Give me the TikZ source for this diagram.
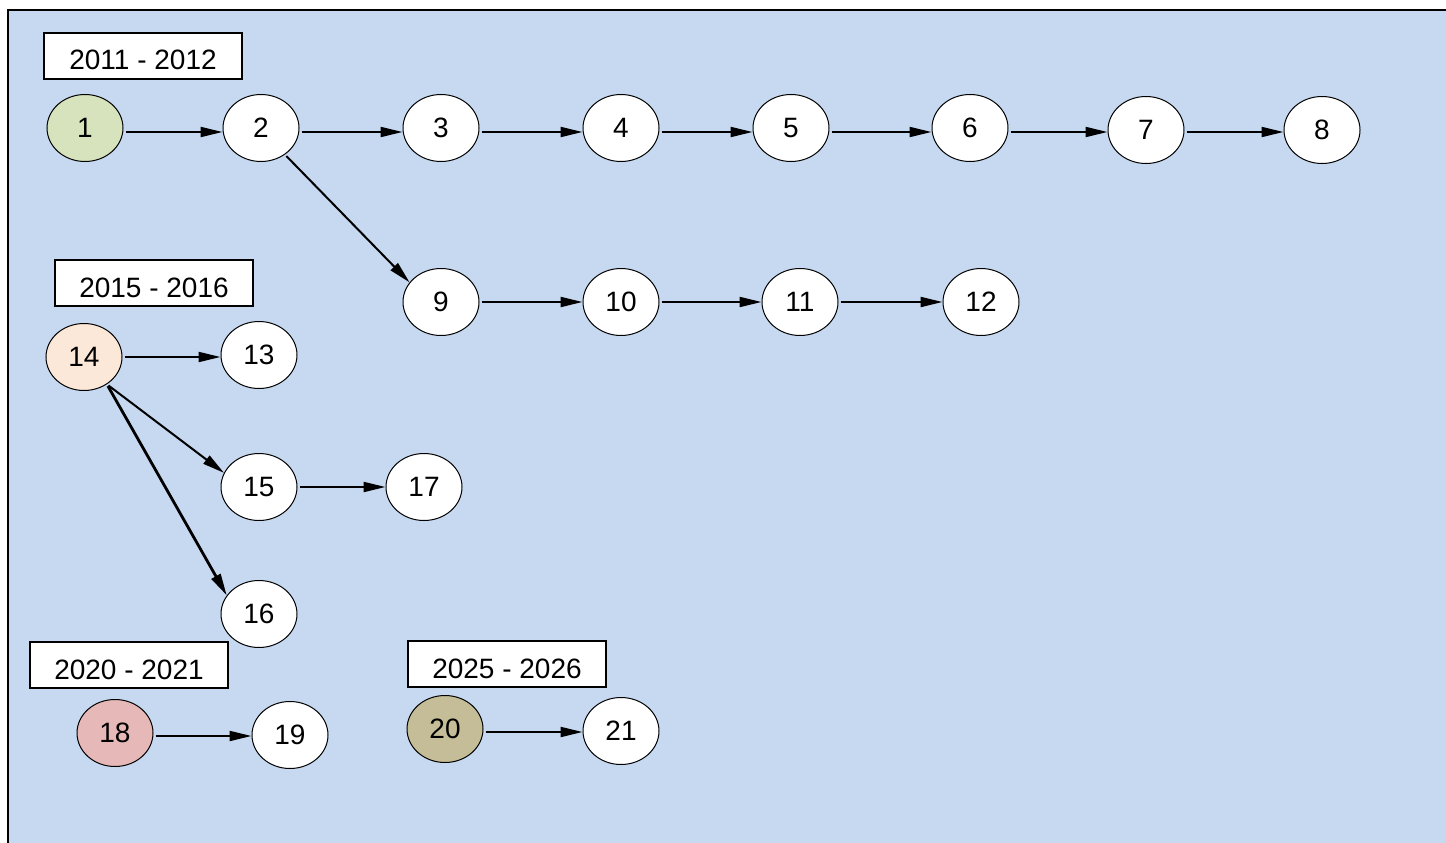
\documentclass[tikz,border=0pt]{standalone}
\usepackage{fontspec}
\setmainfont{Liberation Sans}
\usetikzlibrary{shapes.geometric,arrows.meta}
\definecolor{bgblue}{RGB}{198,217,240}
\definecolor{cgreen}{RGB}{214,227,188}
\definecolor{cpeach}{RGB}{252,232,216}
\definecolor{cpink}{RGB}{230,184,183}
\definecolor{cbeige}{RGB}{196,189,151}
\begin{document}
\begin{tikzpicture}[x=1pt,y=-1pt,
  nd/.style={ellipse,draw=black,line width=1pt,fill=white,minimum width=76pt,minimum height=67pt,inner sep=0pt,font=\fontsize{28}{32}\selectfont},
  yr/.style={rectangle,draw=black,line width=1.3pt,fill=white,minimum width=198pt,minimum height=46pt,inner sep=0pt,text height=28pt,text depth=0pt,font=\fontsize{28}{32}\selectfont},
  ar/.style={-{Triangle[length=22pt,width=10pt]},line width=2pt,shorten <=2pt}]
\useasboundingbox (0,0) rectangle (1446,843);
\fill[bgblue] (8,10) rectangle (1460,860);
\draw[line width=1.5pt] (8,860) -- (8,10) -- (1460,10);
% year labels
\node[yr] (y1) at (143,56) {2011 - 2012};
\node[yr] (y2) at (154,283) {2015 - 2016};
\node[yr] (y3) at (129,665) {2020 - 2021};
\node[yr] (y4) at (507,664) {2025 - 2026};
% nodes
\node[nd,fill=cgreen] (n1) at (85,128) {1};
\node[nd] (n2) at (261,128) {2};
\node[nd] (n3) at (441,128) {3};
\node[nd] (n4) at (621,128) {4};
\node[nd] (n5) at (791,128) {5};
\node[nd] (n6) at (970,128) {6};
\node[nd] (n7) at (1146,130) {7};
\node[nd] (n8) at (1322,130) {8};
\node[nd] (n9) at (441,302) {9};
\node[nd] (n10) at (621,302) {10};
\node[nd] (n11) at (800,302) {11};
\node[nd] (n12) at (981,302) {12};
\node[nd,fill=cpeach] (n14) at (84,357) {14};
\node[nd] (n13) at (259,355) {13};
\node[nd] (n15) at (259,487) {15};
\node[nd] (n17) at (424,487) {17};
\node[nd] (n16) at (259,614) {16};
\node[nd,fill=cpink] (n18) at (115,733) {18};
\node[nd] (n19) at (290,735) {19};
\node[nd,fill=cbeige] (n20) at (445,729) {20};
\node[nd] (n21) at (621,731) {21};
% edges
\draw[ar] ([yshift=-4pt]n1.east) -- ([yshift=-4pt]n1.east -| n2.west);
\draw[ar] ([yshift=-4pt]n2.east) -- ([yshift=-4pt]n2.east -| n3.west);
\draw[ar] ([yshift=-4pt]n3.east) -- ([yshift=-4pt]n3.east -| n4.west);
\draw[ar] ([yshift=-4pt]n4.east) -- ([yshift=-4pt]n4.east -| n5.west);
\draw[ar] ([yshift=-4pt]n5.east) -- ([yshift=-4pt]n5.east -| n6.west);
\draw[ar] ([yshift=-4pt]n6.east) -- ([yshift=-4pt]n6.east -| n7.west);
\draw[ar] ([yshift=-2pt]n7.east) -- ([yshift=-2pt]n7.east -| n8.west);
\draw[ar] (n2.-48) -- (n9.148);
\draw[ar] (n9.east) -- (n9.east -| n10.west);
\draw[ar] (n10.east) -- (n10.east -| n11.west);
\draw[ar] (n11.east) -- (n11.east -| n12.west);
\draw[ar] (n14.east) -- (n14.east -| n13.west);
\draw[ar] (n14.-50) -- (n15.158);
\draw[ar,line width=2.8pt] (n14.-50) -- (n16.150);
\draw[ar] (n15.east) -- (n15.east -| n17.west);
\draw[ar] ([yshift=-3pt]n18.east) -- ([yshift=-3pt]n18.east -| n19.west);
\draw[ar] ([yshift=-3pt]n20.east) -- ([yshift=-3pt]n20.east -| n21.west);
\end{tikzpicture}
\end{document}
